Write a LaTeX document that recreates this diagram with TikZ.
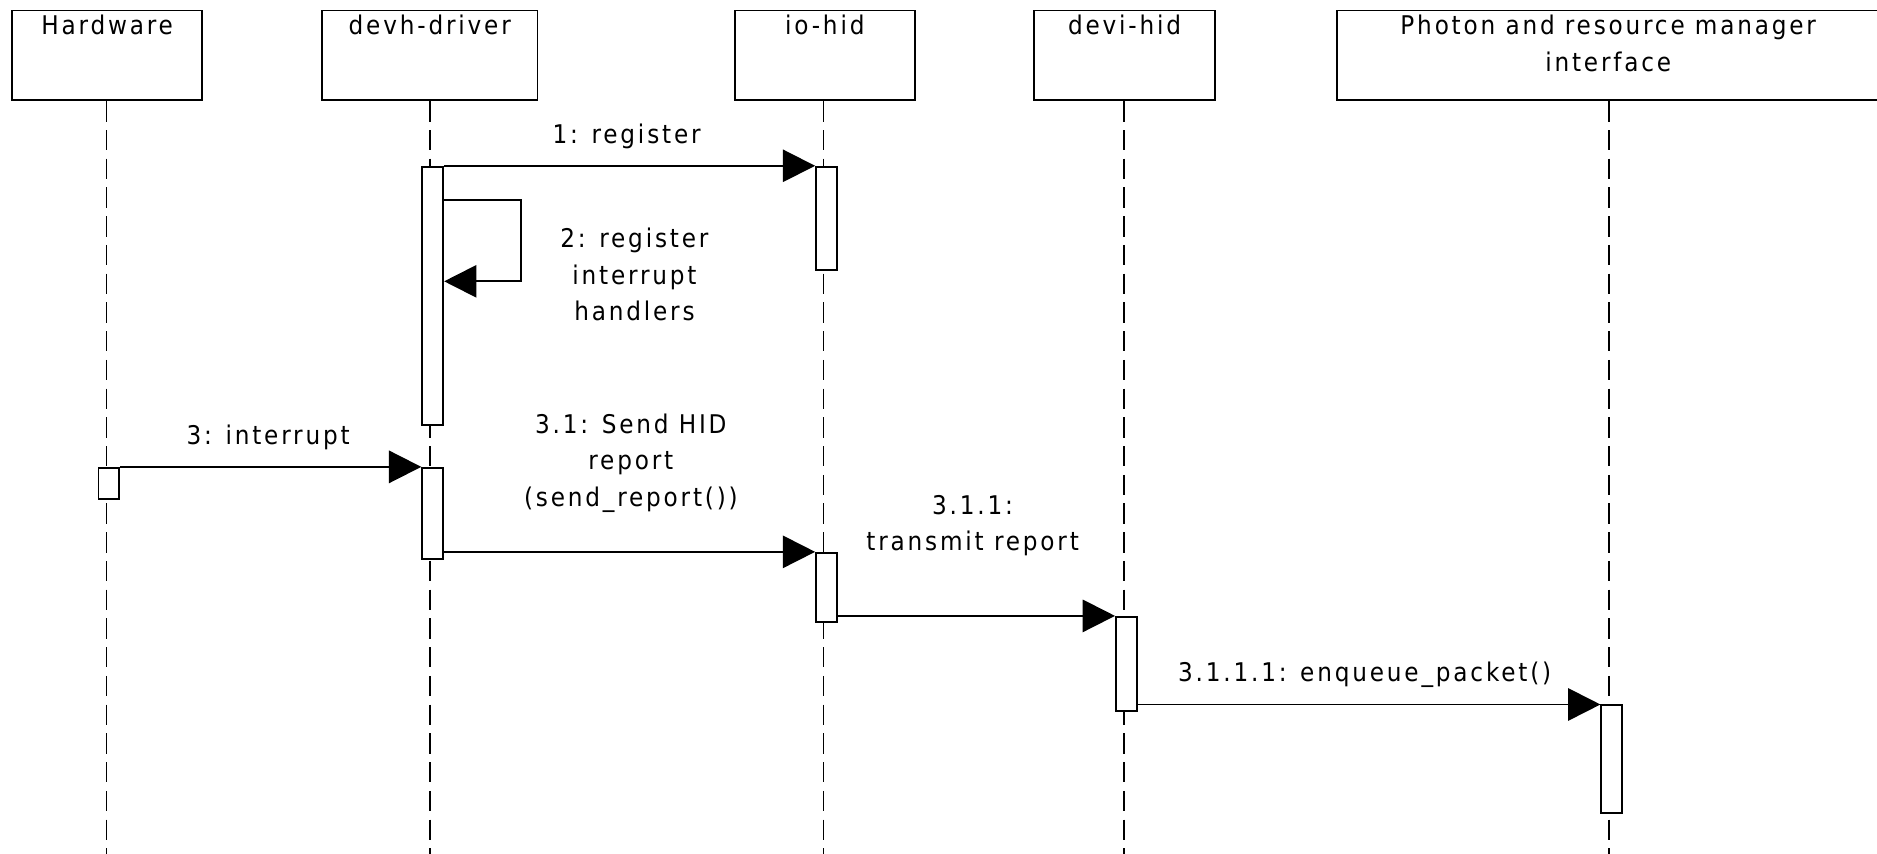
\documentclass[tikz,border=0pt]{standalone}
\usepackage{fontspec}
\setmainfont[LetterSpace=11]{DejaVu Sans Condensed}
\usetikzlibrary{arrows.meta}
\begin{document}
\begin{tikzpicture}[x=1pt,y=-1pt,
  every node/.style={font=\fontsize{21.5}{31}\selectfont, inner sep=0pt},
  actorbox/.style={draw, line width=1.6pt, minimum height=75pt, anchor=north},
  title/.style={anchor=base, align=center},
  lifeline/.style={line width=1.4pt, dash pattern=on 17pt off 7pt},
  bar/.style={draw, fill=white, line width=1.6pt, minimum width=17.5pt, anchor=north},
  msg/.style={line width=1.6pt, -{Triangle[length=27pt,width=27pt]}},
  lbl/.style={anchor=base, align=center}]
\useasboundingbox (0,0) rectangle (1568,713);

% participant boxes
\node[actorbox, minimum width=159pt] (hw)   at (89.5,8) {};
\node[actorbox, minimum width=180pt] (devh) at (359,8) {};
\node[actorbox, minimum width=150pt] (io)   at (689,8) {};
\node[actorbox, minimum width=151pt] (devi) at (939.5,8) {};
\node[actorbox, minimum width=453pt] (ph)   at (1343.5,8) {};

\node[title] (hwt)   at (89.5,29)   {Hardware};
\node[title] (devht) at (359,29)    {devh-driver};
\node[title] (iot)   at (689,29)    {io-hid};
\node[title] (devit) at (939.5,29)  {devi-hid};
\node[title] (pht1)  at (1343.5,29) {Photon and resource manager};
\node[title] (pht2)  at (1343.5,60) {interface};

% lifelines
\coordinate (hwend)   at (89,713);
\coordinate (devhend) at (359,713);
\coordinate (ioend)   at (688,713);
\coordinate (deviend) at (939,713);
\coordinate (phend)   at (1344,713);
\draw[lifeline] (hw.south -| hwend)   -- (hwend);
\draw[lifeline] (devh.south -| devhend) -- (devhend);
\draw[lifeline] (io.south -| ioend)   -- (ioend);
\draw[lifeline] (devi.south -| deviend) -- (deviend);
\draw[lifeline] (ph.south -| phend)   -- (phend);

% activation bars
\node[bar, minimum height=216pt] (a1) at (361.5,138.5) {};
\node[bar, minimum height=86pt]  (a2) at (690.5,138.5) {};
\node[bar, minimum height=26pt]  (a3) at (91,390) {};
\node[bar, minimum height=76.5pt] (a4) at (361.5,390) {};
\node[bar, minimum height=57.5pt] (a5) at (690.5,461) {};
\node[bar, minimum height=79pt]  (a6) at (941,514.5) {};
\node[bar, minimum height=90pt]  (a7) at (1346.5,588.5) {};

% messages
\draw[msg] (a1.north east) -- (a2.north west);
\coordinate (l1) at (435.5,167);
\coordinate (l2) at (435.5,235);
\draw[msg] (a1.east |- l1) -- (l1) -- (l2) -- (a1.east |- l2);
\draw[msg] (a3.north east) -- (a4.north west);
\draw[msg] (a4.east |- a5.north) -- (a5.north west);
\draw[msg] (a5.east |- a6.north) -- (a6.north west);
\draw[msg] (a6.east |- a7.north) -- (a7.north west);

% message labels
\node[lbl] (m1)  at (523.5,119.5) {1: register};
\node[lbl] (m2a) at (530,207) {2: register};
\node[lbl] (m2b) at (530,237.5) {interrupt};
\node[lbl] (m2c) at (530,268) {handlers};
\node[lbl] (m3)  at (224,371) {3: interrupt};
\node[lbl] (m4a) at (527,362) {3.1: Send HID};
\node[lbl] (m4b) at (527,392.5) {report};
\node[lbl] (m4c) at (527,423) {(send\_report())};
\node[lbl] (m5a) at (812.5,429.5) {3.1.1:};
\node[lbl] (m5b) at (812.5,460) {transmit report};
\node[lbl] (m6)  at (1140,569) {3.1.1.1: enqueue\_packet()};
\end{tikzpicture}
\end{document}
